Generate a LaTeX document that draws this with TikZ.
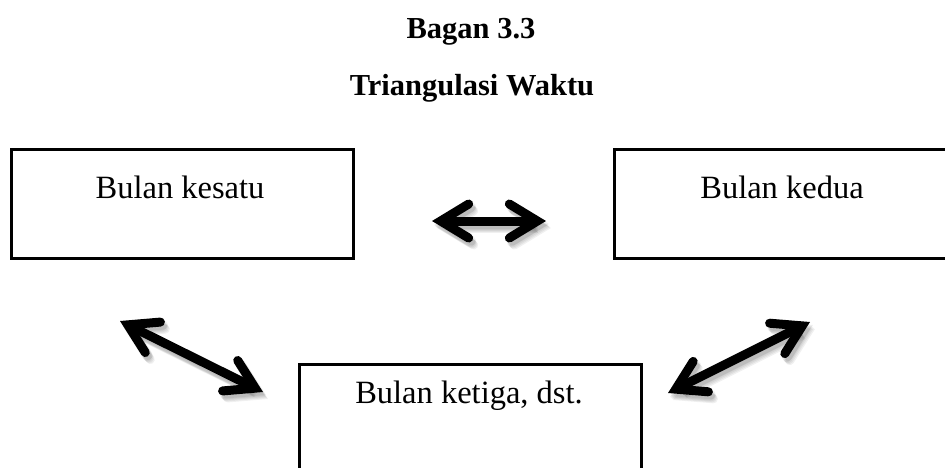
\documentclass[tikz,border=0pt]{standalone}
\usepackage{fontspec}
\setmainfont{Liberation Serif}
\usetikzlibrary{arrows.meta}

\tikzset{
  box/.style={draw=black, line width=3pt, rectangle, inner sep=0pt, anchor=north west},
  boxtext/.style={font=\fontsize{32.5}{38}\selectfont, anchor=base, inner sep=0pt},
  heading/.style={font=\bfseries\fontsize{30.5}{36}\selectfont, anchor=base, inner sep=0pt},
  dbltip/.tip={Straight Barb[length=28pt, width=34pt, line width=9pt, line cap=round, line join=miter]},
  dblarrow/.style={line width=9pt, {dbltip}-{dbltip}},
  arrowshade/.style={line width=9pt, {dbltip}-{dbltip}, draw=black, opacity=0.06}
}

% double arrow with a soft drop shadow
\newcommand{\shadedlink}[2]{%
  \foreach \dx/\dy in {3/5, 2/4, 4/6, 3/3, 5/7} {
    \draw[arrowshade, transform canvas={shift={(\dx pt,-\dy pt)}}] (#1) -- (#2);
  }
  \draw[dblarrow] (#1) -- (#2);
}

\begin{document}
\begin{tikzpicture}[x=1pt, y=-1pt]
  \useasboundingbox (0,0) rectangle (945,467);
  \clip (0,0) rectangle (945,467);

  % titles
  \node[heading] (title1) at (471,38) {Bagan 3.3};
  \node[heading] (title2) at (472,95) {Triangulasi Waktu};

  % boxes
  \node[box, minimum width=342pt, minimum height=109pt] (b1) at (10,148) {};
  \node[box, minimum width=360pt, minimum height=109pt] (b2) at (613,148) {};
  \node[box, minimum width=342pt, minimum height=140pt] (b3) at (298,363) {};

  \node[boxtext] (t1) at (180,198) {Bulan kesatu};
  \node[boxtext] (t2) at (782,198) {Bulan kedua};
  \node[boxtext] (t3) at (469,403) {Bulan ketiga, dst.};

  % arrow end points
  \coordinate (h1) at (432,221);
  \coordinate (h2) at (546,221);
  \coordinate (l1) at (120,321);
  \coordinate (l2) at (263,392);
  \coordinate (r1) at (810,322);
  \coordinate (r2) at (668,393);

  \shadedlink{h1}{h2}
  \shadedlink{l1}{l2}
  \shadedlink{r1}{r2}
\end{tikzpicture}
\end{document}
